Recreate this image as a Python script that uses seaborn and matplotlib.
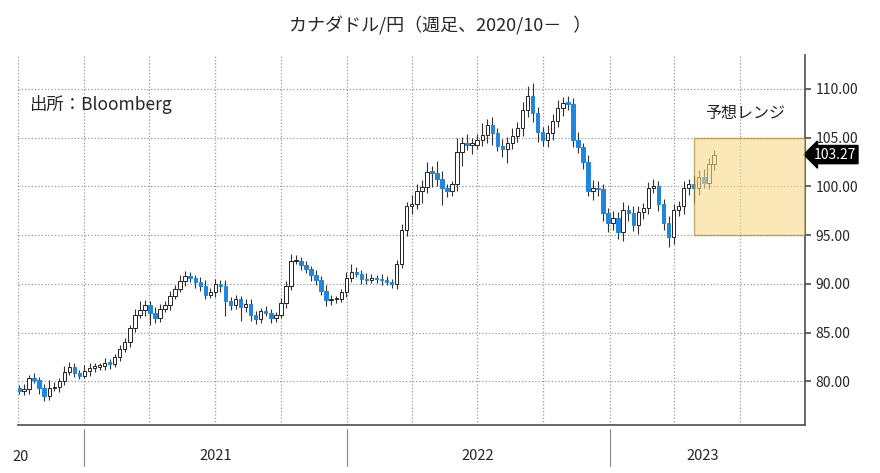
import numpy as np
import pandas as pd
import matplotlib
matplotlib.use("Agg")
import matplotlib.pyplot as plt
import matplotlib.dates as mdates
import matplotlib.transforms as mtransforms
import seaborn as sns

# ---- data: weekly CAD/JPY closes ----
start_date = "2020-10-02"
closes = [79.0, 79.2, 80.3, 80.1, 79.3, 78.5, 79.3, 79.4, 80.0, 81.0,
          81.5, 80.9, 80.6, 81.1, 81.4, 81.5, 81.6, 81.9, 81.8, 82.5,
          83.3, 84.0, 85.5, 86.8, 87.3, 87.8, 87.0, 86.5, 87.4, 87.8,
          88.8, 89.5, 90.3, 90.8, 90.6, 90.2, 89.8, 88.9, 89.2, 90.0,
          89.8, 88.2, 87.8, 88.5, 87.6, 87.9, 86.8, 86.4, 87.2, 87.0,
          86.5, 86.8, 88.0, 89.8, 92.3, 92.4, 91.9, 91.5, 90.9, 90.4,
          89.3, 88.3, 88.4, 88.4, 89.2, 90.6, 91.2, 91.0, 90.5, 90.4,
          90.6, 90.5, 90.4, 90.2, 90.0, 92.0, 95.5, 98.0, 98.2, 99.5,
          99.9, 101.5, 101.4, 100.8, 99.8, 99.5, 100.2, 103.5, 104.5, 104.3,
          104.3, 104.8, 105.3, 106.3, 105.5, 104.2, 103.8, 104.5, 105.2, 106.0,
          107.8, 109.3, 107.5, 105.6, 104.8, 105.5, 106.7, 108.0, 108.6, 108.5,
          104.8, 104.0, 102.5, 99.5, 99.8, 99.7, 97.3, 96.3, 96.8, 95.3,
          97.6, 97.3, 96.0, 97.4, 97.8, 99.8, 100.0, 98.2, 96.3, 94.8,
          97.6, 98.0, 99.8, 100.2, 99.8, 101.0, 100.4, 102.3, 103.27]
first_open = 79.3
wick_up = [0.3, 0.5, 0.4, 0.6, 0.3, 0.4, 0.8, 0.5, 0.3, 0.6,
           0.5, 0.4, 0.3, 0.6, 0.5, 0.4, 0.3, 0.5, 0.4, 0.3,
           0.4, 0.5, 0.3, 0.6, 0.9, 0.5, 0.4, 0.6, 0.5, 0.4,
           0.5, 0.4, 0.6, 0.5, 0.4, 0.3, 0.5, 0.6, 0.4, 0.5,
           0.4, 0.6, 0.5, 0.4, 0.3, 0.6, 0.5, 0.4, 0.3, 0.5,
           0.4, 0.3, 0.6, 0.5, 0.8, 0.6, 0.4, 0.5, 0.3, 0.5,
           0.4, 0.6, 0.5, 0.4, 0.3, 0.6, 0.8, 0.5, 0.4, 0.6,
           0.4, 0.3, 0.5, 0.4, 0.3, 0.5, 0.6, 0.4, 0.9, 0.7,
           0.8, 1.0, 0.6, 1.2, 0.8, 0.5, 0.4, 1.5, 0.6, 0.9,
           0.7, 0.6, 1.2, 0.6, 0.8, 0.5, 0.7, 0.6, 0.8, 0.6,
           0.9, 1.0, 1.3, 0.6, 0.5, 0.8, 0.7, 0.9, 0.6, 0.7,
           0.6, 0.8, 0.5, 0.7, 0.9, 0.8, 0.6, 0.5, 0.7, 0.6,
           0.8, 0.5, 0.7, 0.6, 0.5, 0.7, 0.8, 0.6, 0.5, 0.7,
           0.6, 0.5, 0.8, 0.6, 1.0, 0.7, 0.8, 0.6, 0.5]
wick_dn = [0.3, 0.4, 0.5, 0.3, 0.6, 0.5, 0.4, 0.3, 0.5, 0.4,
           0.3, 0.5, 0.4, 0.3, 0.5, 0.4, 0.3, 0.4, 0.5, 0.3,
           0.4, 0.3, 0.5, 0.4, 0.3, 0.6, 1.2, 0.5, 0.4, 0.3,
           0.5, 0.4, 0.3, 0.5, 0.4, 0.6, 0.5, 0.4, 0.3, 0.5,
           0.6, 1.5, 0.5, 0.4, 1.4, 0.5, 0.6, 0.5, 0.4, 0.3,
           0.5, 0.4, 0.3, 0.5, 0.4, 0.3, 0.5, 0.4, 0.6, 0.5,
           0.4, 0.6, 0.5, 0.4, 0.3, 0.5, 0.4, 0.3, 0.5, 0.4,
           0.3, 0.4, 0.5, 0.3, 0.4, 0.5, 0.4, 0.6, 0.8, 0.5,
           1.2, 0.6, 1.5, 0.8, 1.7, 0.6, 0.5, 0.7, 1.4, 0.6,
           1.0, 0.5, 0.7, 0.8, 1.2, 0.6, 0.8, 1.4, 0.7, 0.6,
           0.8, 0.7, 0.9, 1.0, 0.6, 0.8, 0.7, 0.6, 0.8, 0.7,
           0.8, 0.6, 0.7, 0.5, 0.9, 0.7, 0.8, 1.0, 0.8, 0.7,
           0.9, 0.8, 0.6, 0.9, 0.7, 0.6, 0.5, 0.7, 0.8, 1.0,
           0.7, 0.6, 0.8, 0.7, 1.5, 0.7, 0.6, 0.7, 0.6]

range_low, range_high = 95.0, 105.0
range_start, range_end = "2023-04-29", "2023-09-30"
y_ticks = [80, 85, 90, 95, 100, 105, 110]
year_bounds = ["2021-01-01", "2022-01-01", "2023-01-01"]
year_mids = ["2021-07-02", "2022-07-02", "2023-05-10"]
year_labels = ["2021", "2022", "2023"]
title = "カナダドル/円（週足、2020/10－   ）"

# ---- build frame ----
dates = pd.date_range(start_date, periods=len(closes), freq="7D")
df = pd.DataFrame({"date": dates, "close": closes})
df["open"] = [first_open] + closes[:-1]
df["high"] = df[["open", "close"]].max(axis=1) + wick_up
df["low"] = df[["open", "close"]].min(axis=1) - wick_dn
df["up"] = df["close"] >= df["open"]

sns.set_theme(style="white", font="Noto Sans CJK JP")
fig = plt.figure(figsize=(8.8, 4.73), dpi=100)
ax = fig.add_axes([0.02, 0.101, 0.895, 0.783])

x = mdates.date2num(df["date"])
ax.vlines(x, df["low"], df["high"], color="#333333", lw=0.8, zorder=2)
body_bottom = df[["open", "close"]].min(axis=1)
body_h = (df["close"] - df["open"]).abs().clip(lower=0.15)
colors = np.where(df["up"], "white", "#1f86e0")
edges = np.where(df["up"], "#222222", "#1f86e0")
ax.bar(x, body_h, bottom=body_bottom, width=4.8, color=colors,
       edgecolor=edges, linewidth=0.7, zorder=3)

# forecast range box
rs, re_ = mdates.datestr2num(range_start), mdates.datestr2num(range_end)
ax.add_patch(plt.Rectangle((rs, range_low), re_ - rs, range_high - range_low,
                           facecolor="#f8d98a", alpha=0.6, edgecolor="#a67c1a",
                           lw=1.0, zorder=4))
ax.text(rs + 0.1 * (re_ - rs), range_high + 2.0, "予想レンジ", fontsize=11.5)

ax.set_xlim(mdates.datestr2num("2020-09-30"), re_)
ax.set_ylim(75.5, 113.5)

# y axis on right
ax.yaxis.tick_right()
ax.set_yticks(y_ticks)
ax.set_yticklabels([f"{v:.2f}" for v in y_ticks], fontsize=10)
ax.tick_params(axis="y", length=4, color="#555555", right=True)
ax.grid(axis="y", linestyle=":", color="#999999", lw=0.9)

# quarterly vertical grid
for q in pd.date_range("2020-10-01", "2023-07-01", freq="QS"):
    ax.axvline(mdates.date2num(q), linestyle=":", color="#999999", lw=0.9, zorder=0)

# x axis: year separators below the axis + centred labels
trans = mtransforms.blended_transform_factory(ax.transData, ax.transAxes)
for d in year_bounds:
    xd = mdates.datestr2num(d)
    ax.plot([xd, xd], [-0.01, -0.11], transform=trans, color="#888888",
            lw=0.8, clip_on=False)
ax.set_xticks([mdates.datestr2num(d) for d in year_mids])
ax.set_xticklabels(year_labels, fontsize=10.5)
ax.tick_params(axis="x", which="major", length=0, pad=17)
ax.text(-0.006, -0.085, "20", transform=ax.transAxes, fontsize=10.5, ha="left", va="center")

for s in ["top", "left"]:
    ax.spines[s].set_visible(False)
ax.spines["right"].set_color("#555555")
ax.spines["bottom"].set_color("#555555")

# last price tag
ax.annotate(f"{closes[-1]:.2f}", xy=(1.0, closes[-1]), xycoords=("axes fraction", "data"),
            xytext=(6, 0), textcoords="offset points", fontsize=10, color="white",
            va="center", ha="left",
            bbox=dict(boxstyle="larrow,pad=0.15", fc="black", ec="black"))

ax.text(0.015, 0.85, "出所：Bloomberg", transform=ax.transAxes, fontsize=12.5)
fig.suptitle(title, fontsize=13, y=0.965)

fig.savefig("out.png", dpi=100)
